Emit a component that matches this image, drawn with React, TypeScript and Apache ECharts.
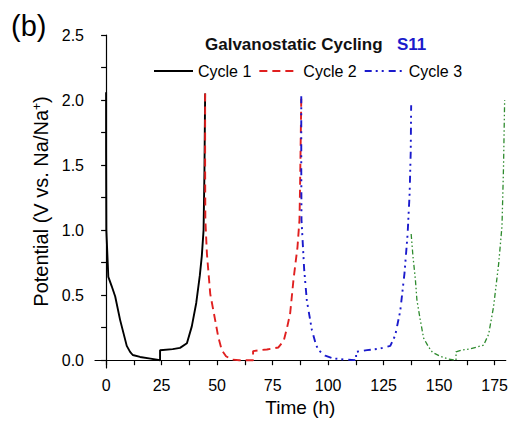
import React, { useEffect, useRef } from 'react';
import * as echarts from 'echarts';

const FONT = '"Liberation Sans", Arial, sans-serif';

// Cycle 1 (black, solid)
const cycle1Time = [0, 0, 0.1, 1.0, 2.5, 4.1, 6.3, 9.3, 10.8, 12.0, 15.3, 20.0, 24.3, 24.3, 30.0, 33.3, 36.4, 38.6, 40.6, 42.2, 43.1, 43.9, 44.3, 44.6];
const cycle1Potential = [2.06, 1.6, 1.0, 0.64, 0.57, 0.49, 0.31, 0.11, 0.064, 0.04, 0.025, 0.012, 0.0, 0.077, 0.085, 0.095, 0.13, 0.26, 0.44, 0.65, 0.8, 1.0, 1.46, 2.05];

// Cycle 2 (red, dashed)
const cycle2Time = [44.6, 44.6, 44.7, 45.4, 46.9, 49.1, 50.5, 52.1, 54.0, 56.6, 60.0, 66.2, 66.2, 69.0, 72.4, 77.6, 80.0, 81.5, 82.9, 84.4, 86.2, 87.1, 87.4, 87.9];
const cycle2Potential = [2.05, 1.5, 1.08, 0.82, 0.51, 0.31, 0.18, 0.077, 0.03, 0.005, 0.0, 0.0, 0.07, 0.077, 0.082, 0.098, 0.15, 0.25, 0.36, 0.62, 0.87, 1.08, 1.38, 2.01];

// Cycle 3 (blue, dash-dot-dot)
const cycle3Time = [87.9, 87.9, 88.0, 89.2, 90.4, 92.7, 94.5, 95.7, 98.7, 102.0, 106.9, 112.6, 112.6, 117.5, 123.5, 128.0, 130.2, 132.5, 134.4, 135.8, 136.7, 137.2, 137.4];
const cycle3Potential = [2.03, 1.5, 1.08, 0.7, 0.46, 0.23, 0.12, 0.077, 0.035, 0.015, 0.005, 0.0, 0.064, 0.077, 0.09, 0.11, 0.19, 0.38, 0.67, 0.97, 1.28, 1.6, 1.96];

// Cycle 4 (green, dash-dot-dot, not in legend)
const cycle4Time = [137.4, 138.2, 139.3, 140.0, 141.5, 143.0, 145.3, 147.0, 150.5, 154.0, 157.6, 157.6, 160.0, 163.3, 170.0, 172.3, 174.5, 176.8, 178.3, 179.0, 179.5];
const cycle4Potential = [0.97, 0.8, 0.62, 0.46, 0.31, 0.17, 0.1, 0.06, 0.03, 0.01, 0.0, 0.064, 0.077, 0.085, 0.115, 0.2, 0.41, 0.74, 1.03, 1.49, 2.0];

const legendNames = ['Cycle 1', 'Cycle 2', 'Cycle 3'];

const xTickValues = [0, 12.5, 25, 37.5, 50, 62.5, 75, 87.5, 100, 112.5, 125, 137.5, 150, 162.5, 175];
const xLabelValues = [0, 25, 50, 75, 100, 125, 150, 175];
const yTickValues = [0, 0.25, 0.5, 0.75, 1, 1.25, 1.5, 1.75, 2, 2.25, 2.5];
const yLabelValues = [0, 0.5, 1, 1.5, 2, 2.5];

const pairs = (xs: number[], ys: number[]) => xs.map((x, i) => [x, ys[i]]);

export default function App() {
  const ref = useRef<HTMLDivElement>(null);
  useEffect(() => {
    document.body.style.margin = '0';
    const chart = echarts.init(ref.current as HTMLDivElement, null, { renderer: 'svg' });
    const axisLine = { show: true, lineStyle: { color: '#000', width: 1.2 } };
    chart.setOption({
      animation: false,
      backgroundColor: '#fff',
      grid: { left: 95, right: 5, top: 35, bottom: 58, containLabel: false },
      legend: {
        data: legendNames,
        left: 148,
        top: 58,
        itemWidth: 39,
        itemHeight: 14,
        itemGap: 7,
        itemStyle: { opacity: 0 },
        textStyle: { fontSize: 16, color: '#000', fontFamily: FONT },
      },
      graphic: [
        {
          type: 'text', x: 11, y: 26,
          style: { text: '(b)', fontSize: 29, fontFamily: FONT, fill: '#000', verticalAlign: 'middle' },
        },
        {
          type: 'text', x: 205, y: 44,
          style: { text: 'Galvanostatic Cycling', fontSize: 17, fontWeight: 'bold', fontFamily: FONT, fill: '#111', verticalAlign: 'middle' },
        },
        {
          type: 'text', x: 397, y: 44,
          style: { text: 'S11', fontSize: 17, fontWeight: 'bold', fontFamily: FONT, fill: '#1a1acc', verticalAlign: 'middle' },
        },
      ],
      xAxis: {
        type: 'value',
        min: -5,
        max: 180,
        name: 'Time (h)',
        nameLocation: 'middle',
        nameGap: 28,
        nameTextStyle: { fontSize: 19, color: '#000', fontFamily: FONT },
        axisLine,
        axisTick: { show: true, inside: false, length: 5, customValues: xTickValues, lineStyle: { color: '#000', width: 1.2 } },
        axisLabel: { customValues: xLabelValues, margin: 9, fontSize: 16, color: '#000', fontFamily: FONT },
        splitLine: { show: false },
      },
      yAxis: {
        type: 'value',
        min: -0.06,
        max: 2.5,
        name: 'Potential (V vs. Na/Na{sup|+})',
        nameLocation: 'middle',
        nameRotate: 90,
        nameGap: 37,
        nameTextStyle: {
          fontSize: 20, color: '#000', fontFamily: FONT,
          rich: { sup: { fontSize: 12, color: '#000', fontFamily: FONT, verticalAlign: 'top', lineHeight: 10 } },
        },
        axisLine,
        axisTick: { show: true, inside: false, length: 5, customValues: yTickValues, lineStyle: { color: '#000', width: 1.2 } },
        axisLabel: {
          customValues: yLabelValues, margin: 11, fontSize: 16, color: '#000', fontFamily: FONT,
          formatter: (v: number) => v.toFixed(1),
        },
        splitLine: { show: false },
      },
      series: [
        {
          name: 'Cycle 1', type: 'line', symbol: 'none', data: pairs(cycle1Time, cycle1Potential),
          lineStyle: { color: '#000', width: 1.9, type: 'solid' }, itemStyle: { color: '#000' },
        },
        {
          name: 'Cycle 2', type: 'line', symbol: 'none', data: pairs(cycle2Time, cycle2Potential),
          lineStyle: { color: '#e02020', width: 1.9, type: [8, 5] }, itemStyle: { color: '#e02020' },
        },
        {
          name: 'Cycle 3', type: 'line', symbol: 'none', data: pairs(cycle3Time, cycle3Potential),
          lineStyle: { color: '#1a1acc', width: 1.9, type: [7, 4, 2, 4, 2, 5] }, itemStyle: { color: '#1a1acc' },
        },
        {
          name: 'Cycle 4', type: 'line', symbol: 'none', data: pairs(cycle4Time, cycle4Potential),
          lineStyle: { color: '#2e8b2e', width: 1.3, type: [5, 2.5, 1.5, 2.5, 1.5, 2.5] }, itemStyle: { color: '#2e8b2e' },
        },
      ],
    });
    return () => chart.dispose();
  }, []);
  return <div ref={ref} style={{ width: 511, height: 426 }} />;
}
